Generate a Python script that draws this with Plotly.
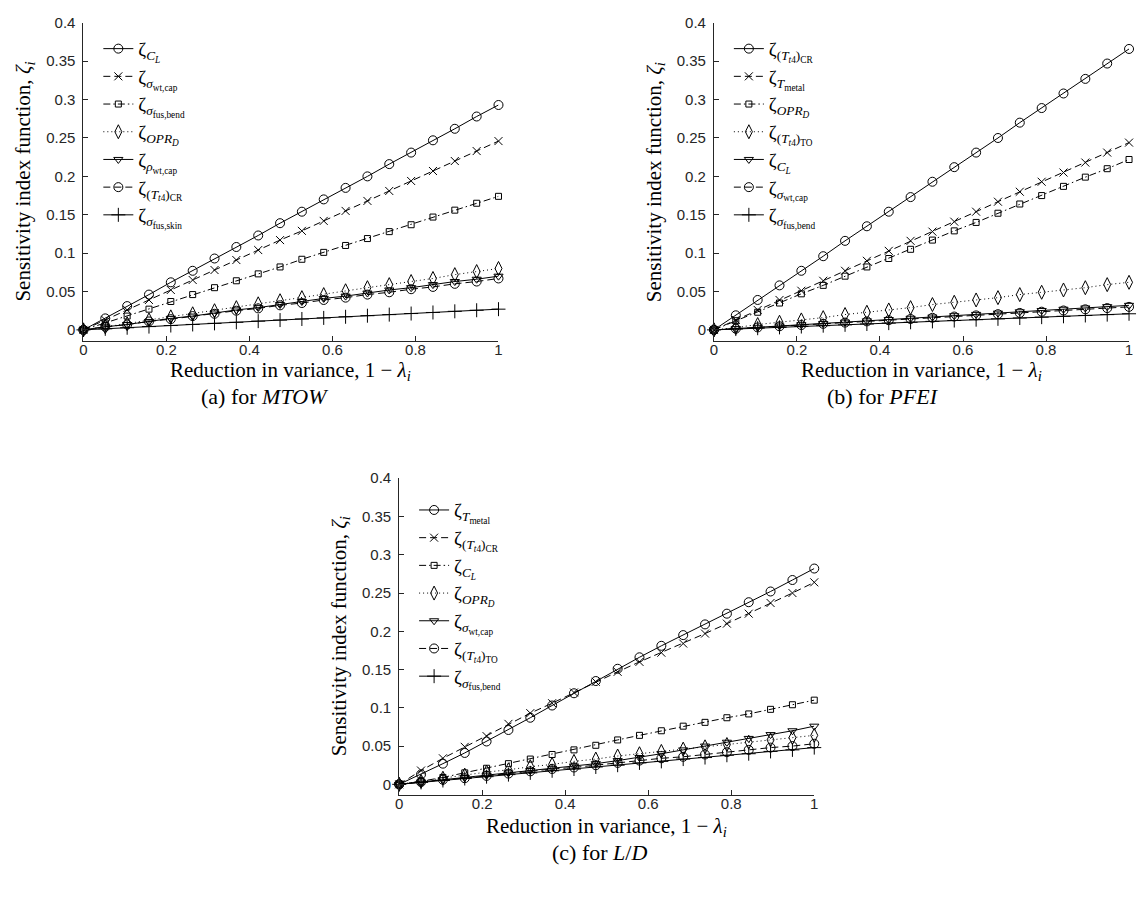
import plotly.graph_objects as go

# ---------------- data ----------------
X = [0, 0.0526, 0.1053, 0.1579, 0.2105, 0.2632, 0.3158, 0.3684, 0.4211, 0.4737,
     0.5263, 0.5789, 0.6316, 0.6842, 0.7368, 0.7895, 0.8421, 0.8947, 0.9474, 1.0]

# (a) MTOW
a_CL = [0, 0.015, 0.031, 0.046, 0.062, 0.077, 0.093, 0.108, 0.123, 0.139, 0.154, 0.170, 0.185, 0.200, 0.216, 0.231, 0.247, 0.262, 0.278, 0.293]
a_wtcap = [0, 0.013, 0.026, 0.039, 0.052, 0.065, 0.078, 0.091, 0.104, 0.117, 0.129, 0.142, 0.155, 0.168, 0.181, 0.194, 0.207, 0.220, 0.233, 0.246]
a_fusbend = [0, 0.009, 0.018, 0.027, 0.037, 0.046, 0.055, 0.064, 0.073, 0.082, 0.092, 0.101, 0.110, 0.119, 0.128, 0.137, 0.147, 0.156, 0.165, 0.174]
a_OPR = [0, 0.004, 0.008, 0.013, 0.017, 0.021, 0.025, 0.029, 0.034, 0.038, 0.042, 0.046, 0.051, 0.055, 0.059, 0.063, 0.067, 0.072, 0.076, 0.080]
a_rhowt = [0, 0.004, 0.007, 0.011, 0.015, 0.018, 0.022, 0.026, 0.029, 0.033, 0.037, 0.041, 0.044, 0.048, 0.052, 0.055, 0.059, 0.063, 0.066, 0.070]
a_Tt4CR = [0, 0.004, 0.007, 0.011, 0.014, 0.018, 0.021, 0.025, 0.028, 0.032, 0.035, 0.039, 0.042, 0.046, 0.049, 0.053, 0.056, 0.060, 0.063, 0.067]
a_fusskin = [0, 0.0014, 0.0028, 0.0043, 0.0057, 0.0071, 0.0085, 0.0099, 0.0114, 0.0128, 0.0142, 0.0156, 0.0171, 0.0185, 0.0199, 0.0213, 0.0227, 0.0242, 0.0256, 0.027]

# (b) PFEI
b_Tt4CR = [0, 0.019, 0.039, 0.058, 0.077, 0.096, 0.116, 0.135, 0.154, 0.173, 0.193, 0.212, 0.231, 0.250, 0.270, 0.289, 0.308, 0.327, 0.347, 0.366]
b_Tmetal = [0, 0.013, 0.026, 0.039, 0.051, 0.064, 0.077, 0.090, 0.103, 0.116, 0.128, 0.141, 0.154, 0.167, 0.180, 0.193, 0.205, 0.218, 0.231, 0.244]
b_OPR = [0, 0.012, 0.023, 0.035, 0.047, 0.058, 0.070, 0.082, 0.093, 0.105, 0.117, 0.129, 0.140, 0.152, 0.164, 0.175, 0.187, 0.199, 0.210, 0.222]
b_Tt4TO = [0, 0.003, 0.007, 0.010, 0.013, 0.016, 0.020, 0.023, 0.026, 0.029, 0.033, 0.036, 0.039, 0.042, 0.046, 0.049, 0.052, 0.055, 0.059, 0.062]
b_CL = [0, 0.0017, 0.0034, 0.0051, 0.0067, 0.0084, 0.0101, 0.0118, 0.0135, 0.0152, 0.0168, 0.0185, 0.0202, 0.0219, 0.0236, 0.0253, 0.0269, 0.0286, 0.0303, 0.032]
b_wtcap = [0, 0.0016, 0.0032, 0.0047, 0.0063, 0.0079, 0.0095, 0.0111, 0.0126, 0.0142, 0.0158, 0.0174, 0.0189, 0.0205, 0.0221, 0.0237, 0.0253, 0.0268, 0.0284, 0.030]
b_fusbend = [0, 0.0011, 0.0022, 0.0033, 0.0044, 0.0055, 0.0066, 0.0077, 0.0088, 0.0099, 0.0111, 0.0122, 0.0133, 0.0144, 0.0155, 0.0166, 0.0177, 0.0188, 0.0199, 0.021]

# (c) L/D
c_Tmetal = [0, 0.013, 0.027, 0.041, 0.056, 0.071, 0.087, 0.103, 0.119, 0.135, 0.151, 0.166, 0.181, 0.195, 0.209, 0.223, 0.238, 0.252, 0.267, 0.282]
c_Tt4CR = [0, 0.018, 0.034, 0.049, 0.063, 0.079, 0.093, 0.106, 0.120, 0.134, 0.147, 0.160, 0.172, 0.184, 0.197, 0.210, 0.223, 0.237, 0.250, 0.264]
c_CL = [0, 0.004, 0.009, 0.015, 0.021, 0.027, 0.033, 0.039, 0.045, 0.051, 0.058, 0.064, 0.070, 0.076, 0.081, 0.087, 0.092, 0.098, 0.104, 0.110]
c_OPR = [0, 0.004, 0.008, 0.012, 0.016, 0.019, 0.023, 0.026, 0.030, 0.033, 0.037, 0.040, 0.043, 0.046, 0.049, 0.052, 0.055, 0.058, 0.061, 0.064]
c_wtcap = [0, 0.003, 0.006, 0.009, 0.012, 0.015, 0.018, 0.021, 0.024, 0.027, 0.031, 0.035, 0.040, 0.045, 0.050, 0.055, 0.060, 0.065, 0.070, 0.076]
c_Tt4TO = [0, 0.003, 0.006, 0.008, 0.011, 0.014, 0.017, 0.020, 0.022, 0.025, 0.028, 0.031, 0.034, 0.036, 0.039, 0.042, 0.045, 0.048, 0.050, 0.053]
c_fusbend = [0, 0.0025, 0.005, 0.0076, 0.010, 0.0127, 0.015, 0.0177, 0.020, 0.0227, 0.025, 0.028, 0.030, 0.033, 0.035, 0.038, 0.040, 0.043, 0.045, 0.048]

# legend labels
L_CL = "ζ<sub><i>C</i><sub><i>L</i></sub></sub>"
L_wtcap = "ζ<sub><i>σ</i><sub>wt,cap</sub></sub>"
L_fusbend = "ζ<sub><i>σ</i><sub>fus,bend</sub></sub>"
L_fusskin = "ζ<sub><i>σ</i><sub>fus,skin</sub></sub>"
L_OPR = "ζ<sub><i>OPR</i><sub><i>D</i></sub></sub>"
L_rhowt = "ζ<sub><i>ρ</i><sub>wt,cap</sub></sub>"
L_Tt4CR = "ζ<sub>(<i>T</i><sub><i>t</i>4</sub>)<sub>CR</sub></sub>"
L_Tt4TO = "ζ<sub>(<i>T</i><sub><i>t</i>4</sub>)<sub>TO</sub></sub>"
L_Tmetal = "ζ<sub><i>T</i><sub>metal</sub></sub>"

series_a = [(L_CL, a_CL), (L_wtcap, a_wtcap), (L_fusbend, a_fusbend), (L_OPR, a_OPR),
            (L_rhowt, a_rhowt), (L_Tt4CR, a_Tt4CR), (L_fusskin, a_fusskin)]
series_b = [(L_Tt4CR, b_Tt4CR), (L_Tmetal, b_Tmetal), (L_OPR, b_OPR), (L_Tt4TO, b_Tt4TO),
            (L_CL, b_CL), (L_wtcap, b_wtcap), (L_fusbend, b_fusbend)]
series_c = [(L_Tmetal, c_Tmetal), (L_Tt4CR, c_Tt4CR), (L_CL, c_CL), (L_OPR, c_OPR),
            (L_wtcap, c_wtcap), (L_Tt4TO, c_Tt4TO), (L_fusbend, c_fusbend)]

Y_TICKS = [0, 0.05, 0.1, 0.15, 0.2, 0.25, 0.3, 0.35, 0.4]
Y_TICKTEXT = ["0", "0.05", "0.1", "0.15", "0.2", "0.25", "0.3", "0.35", "0.4"]
X_TICKS = [0, 0.2, 0.4, 0.6, 0.8, 1]
X_TICKTEXT = ["0", "0.2", "0.4", "0.6", "0.8", "1"]

# ---------------- styles ----------------
STYLES = [
    dict(dash="solid", symbol="circle-open", size=9),
    dict(dash="7px,4px", symbol="x-thin-open", size=8),
    dict(dash="7px,3px,1.5px,3px", symbol="square-open", size=6),
    dict(dash="1px,3px", symbol="diamond-tall-open", size=10),
    dict(dash="solid", symbol="triangle-down-open", size=8),
    dict(dash="7px,4px", symbol="circle-open", size=9),
    dict(dash="solid", symbol="cross-thin-open", size=10),
]

W, H = 1138, 897
INK = "#000000"
AX = "#262626"
SERIF = "Liberation Serif, DejaVu Serif, serif"
SANS = "Liberation Sans, Arial, sans-serif"

fig = go.Figure()

# pixel geometry of the three axes (x0 -> value 0, x1 -> value 1, ytop -> 0.4, ybot -> axis bottom)
panels = [
    dict(series=series_a, xa="x", ya="y", leg="legend", x0=80, x1=498, ytop=14, ybot=335,
         legtop=21, xlab=366, cap=391, capx=262),
    dict(series=series_b, xa="x2", ya="y2", leg="legend2", x0=715, x1=1133, ytop=14, ybot=335,
         legtop=21, xlab=366, cap=391, capx=885),
    dict(series=series_c, xa="x3", ya="y3", leg="legend3", x0=398, x1=816, ytop=474, ybot=794,
         legtop=487, xlab=826, cap=852, capx=600),
]

for p in panels:
    for i, (name, vals) in enumerate(p["series"]):
        st = STYLES[i]
        fig.add_trace(go.Scatter(
            x=X, y=vals, name=name, mode="lines+markers",
            xaxis=p["xa"], yaxis=p["ya"], legend=p["leg"],
            cliponaxis=False,
            line=dict(color=INK, width=1, dash=st["dash"]),
            marker=dict(symbol=st["symbol"], size=st["size"], color=INK,
                        line=dict(color=INK, width=1)),
        ))

layout = dict(
    width=W, height=H, margin=dict(l=0, r=0, t=0, b=0),
    paper_bgcolor="white", plot_bgcolor="white", showlegend=True,
)

for k, p in enumerate(panels):
    sfx = "" if k == 0 else str(k + 1)
    xd = [p["x0"] / W, p["x1"] / W]
    yd = [1 - p["ybot"] / H, 1 - p["ytop"] / H]
    layout["xaxis" + sfx] = dict(
        domain=xd, range=[0, 1], anchor="y" + sfx,
        tickvals=X_TICKS, ticktext=X_TICKTEXT,
        showline=True, linecolor=AX, linewidth=1, mirror=False,
        ticks="inside", ticklen=5, tickcolor=AX, tickwidth=1,
        showgrid=False, zeroline=False, ticklabelstandoff=-5,
        tickfont=dict(family=SANS, size=15, color=AX),
    )
    layout["yaxis" + sfx] = dict(
        domain=yd, range=[-0.014, 0.4], anchor="x" + sfx,
        tickvals=Y_TICKS, ticktext=Y_TICKTEXT,
        showline=True, linecolor=AX, linewidth=1, mirror=False,
        ticks="inside", ticklen=5, tickcolor=AX, tickwidth=1,
        showgrid=False, zeroline=False, ticklabelstandoff=4,
        tickfont=dict(family=SANS, size=15, color=AX),
    )
    legkey = "legend" if k == 0 else "legend" + str(k + 1)
    layout[legkey] = dict(
        x=(p["x0"] + 15) / W, y=1 - p["legtop"] / H,
        xanchor="left", yanchor="top",
        bgcolor="rgba(0,0,0,0)", borderwidth=0,
        font=dict(family=SERIF, size=19, color=INK),
        tracegroupgap=0, itemwidth=30,
    )

fig.update_layout(**layout)

annos = []
captions = ["(a) for <i>MTOW</i>", "(b) for <i>PFEI</i>", "(c) for <i>L</i>/<i>D</i>"]
for k, p in enumerate(panels):
    xc = (p["x0"] + p["x1"]) / 2
    annos.append(dict(
        text="Reduction in variance, 1 − <i>λ</i><sub><i>i</i></sub>",
        x=xc / W, y=1 - p["xlab"] / H, xref="paper", yref="paper",
        xanchor="center", yanchor="middle", showarrow=False,
        font=dict(family=SERIF, size=21, color=INK)))
    annos.append(dict(
        text="Sensitivity index function, <i>ζ</i><sub><i>i</i></sub>",
        x=(p["x0"] - 60) / W, y=1 - ((p["ytop"] + p["ybot"]) / 2) / H,
        xref="paper", yref="paper", textangle=-90,
        xanchor="center", yanchor="middle", showarrow=False,
        font=dict(family=SERIF, size=21, color=INK)))
    annos.append(dict(
        text=captions[k], x=p["capx"] / W, y=1 - p["cap"] / H,
        xref="paper", yref="paper", xanchor="center", yanchor="middle",
        showarrow=False, font=dict(family=SERIF, size=22, color=INK)))

fig.update_layout(annotations=annos)
fig.write_html("out.html")
